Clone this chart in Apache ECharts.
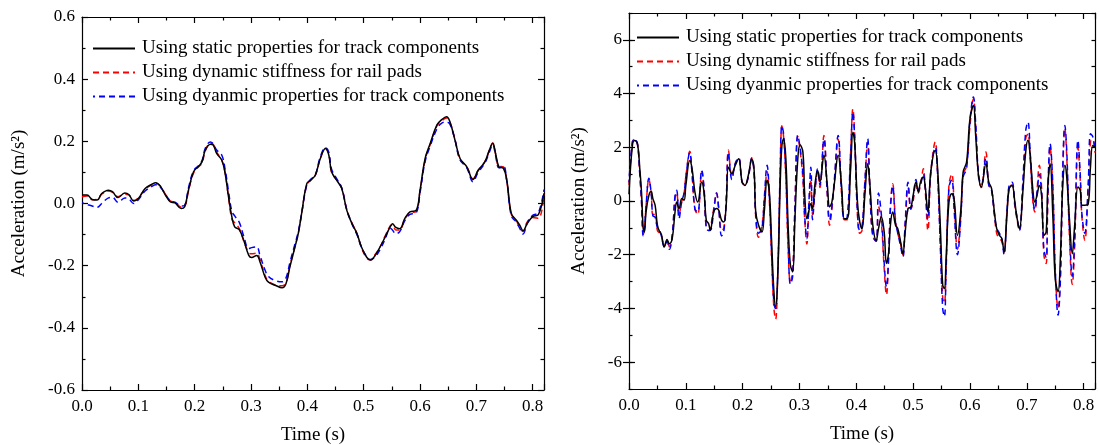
<!DOCTYPE html>
<html><head><meta charset="utf-8">
<script src="https://cdn.jsdelivr.net/npm/echarts@6/dist/echarts.min.js"></script>
<style>html,body{margin:0;padding:0;background:#fff}#c{width:1099px;height:445px}</style>
</head><body><div id="c"></div>
<script>
const seriesNames = ['Using static properties for track components', 'Using dynamic stiffness for rail pads', 'Using dyanmic properties for track components'];
const xTitle = 'Time (s)';
const yTitle = 'Acceleration (m/s\u00B2)';
const rightYLabels = [-6, -4, -2, 0, 2, 4, 6];

// Left chart
const tL = [0.000,0.009,0.018,0.027,0.035,0.047,0.054,0.064,0.076,0.083,
0.092,0.100,0.112,0.124,0.131,0.139,0.148,0.157,0.165,0.176,
0.182,0.189,0.198,0.207,0.213,0.219,0.228,0.233,0.239,0.248,
0.254,0.260,0.266,0.271,0.279,0.287,0.296,0.301,0.310,0.316,
0.325,0.331,0.343,0.355,0.362,0.369,0.378,0.384,0.390,0.399,
0.406,0.414,0.423,0.432,0.438,0.443,0.452,0.461,0.470,0.479,
0.488,0.496,0.505,0.512,0.520,0.529,0.538,0.547,0.551,0.557,
0.564,0.573,0.582,0.593,0.600,0.609,0.618,0.630,0.638,0.647,
0.653,0.662,0.671,0.683,0.694,0.703,0.715,0.723,0.729,0.734,
0.740,0.748,0.754,0.762,0.771,0.777,0.783,0.790,0.800,0.810,
0.820];
const staticL = [0.027,0.027,0.013,0.011,0.032,0.043,0.038,0.019,0.034,0.029,
0.008,0.016,0.048,0.062,0.067,0.056,0.027,0.005,0.002,-0.016,
-0.011,0.043,0.102,0.120,0.134,0.172,0.191,0.188,0.161,0.140,
0.097,0.022,-0.043,-0.075,-0.084,-0.118,-0.167,-0.174,-0.167,-0.188,
-0.237,-0.253,-0.263,-0.271,-0.258,-0.204,-0.140,-0.095,-0.030,0.064,
0.075,0.091,0.145,0.177,0.156,0.102,0.075,0.048,-0.022,-0.064,
-0.097,-0.140,-0.172,-0.182,-0.168,-0.140,-0.108,-0.075,-0.065,-0.077,
-0.081,-0.048,-0.027,-0.022,0.043,0.145,0.193,0.253,0.269,0.279,
0.263,0.204,0.145,0.118,0.077,0.107,0.134,0.172,0.194,0.161,
0.118,0.113,0.075,-0.032,-0.054,-0.070,-0.088,-0.065,-0.042,-0.036,
0.033];
const padsL = [0.022,0.024,0.012,0.014,0.030,0.040,0.036,0.022,0.030,0.028,
0.010,0.018,0.046,0.060,0.064,0.056,0.030,0.008,0.004,-0.012,
-0.010,0.040,0.098,0.118,0.130,0.170,0.195,0.190,0.165,0.140,
0.100,0.020,-0.050,-0.062,-0.080,-0.120,-0.158,-0.162,-0.160,-0.182,
-0.232,-0.250,-0.262,-0.265,-0.255,-0.200,-0.138,-0.095,-0.030,0.060,
0.075,0.090,0.145,0.178,0.158,0.100,0.076,0.050,-0.020,-0.062,
-0.097,-0.142,-0.175,-0.182,-0.165,-0.140,-0.105,-0.072,-0.068,-0.085,
-0.085,-0.050,-0.030,-0.026,0.040,0.140,0.190,0.250,0.265,0.275,
0.262,0.205,0.142,0.118,0.080,0.105,0.135,0.170,0.195,0.160,
0.120,0.118,0.070,-0.035,-0.055,-0.080,-0.090,-0.060,-0.045,-0.048,
0.030];
const dynL = [0.002,-0.003,-0.008,-0.012,0.000,0.018,0.020,0.004,0.018,0.015,
0.000,0.012,0.040,0.055,0.060,0.052,0.030,0.008,0.004,-0.008,
-0.006,0.050,0.105,0.122,0.138,0.178,0.198,0.192,0.172,0.156,
0.110,0.040,-0.025,-0.040,-0.060,-0.105,-0.145,-0.142,-0.140,-0.168,
-0.215,-0.235,-0.248,-0.252,-0.240,-0.190,-0.130,-0.090,-0.030,0.060,
0.078,0.092,0.150,0.180,0.165,0.110,0.080,0.050,-0.020,-0.065,
-0.100,-0.140,-0.170,-0.180,-0.172,-0.148,-0.115,-0.080,-0.085,-0.098,
-0.090,-0.055,-0.035,-0.030,0.035,0.135,0.185,0.240,0.258,0.262,
0.255,0.205,0.140,0.115,0.070,0.100,0.130,0.165,0.190,0.155,
0.115,0.120,0.072,-0.040,-0.060,-0.080,-0.098,-0.065,-0.038,-0.030,
0.045];

// Right chart
const tR = [0.000,0.006,0.010,0.015,0.019,0.022,0.025,0.027,0.030,0.035,
0.039,0.042,0.046,0.050,0.054,0.057,0.062,0.067,0.071,0.076,
0.081,0.084,0.088,0.093,0.097,0.100,0.107,0.111,0.116,0.121,
0.128,0.132,0.136,0.140,0.143,0.149,0.154,0.158,0.163,0.167,
0.171,0.175,0.181,0.187,0.193,0.199,0.204,0.210,0.216,0.220,
0.223,0.228,0.234,0.238,0.243,0.247,0.251,0.255,0.258,0.262,
0.266,0.269,0.272,0.276,0.280,0.284,0.288,0.292,0.297,0.301,
0.306,0.309,0.313,0.316,0.320,0.323,0.327,0.332,0.336,0.343,
0.349,0.353,0.357,0.361,0.368,0.374,0.379,0.384,0.390,0.394,
0.397,0.402,0.406,0.410,0.415,0.420,0.424,0.429,0.435,0.439,
0.444,0.449,0.453,0.457,0.460,0.464,0.469,0.473,0.478,0.482,
0.486,0.491,0.496,0.500,0.505,0.509,0.513,0.518,0.521,0.526,
0.531,0.539,0.543,0.548,0.552,0.555,0.558,0.563,0.568,0.572,
0.578,0.584,0.588,0.594,0.600,0.606,0.610,0.615,0.620,0.628,
0.633,0.638,0.643,0.647,0.652,0.656,0.660,0.665,0.669,0.674,
0.679,0.682,0.687,0.693,0.698,0.702,0.706,0.711,0.714,0.718,
0.722,0.726,0.730,0.734,0.737,0.741,0.746,0.750,0.755,0.759,
0.763,0.767,0.770,0.775,0.780,0.784,0.790,0.794,0.797,0.802,
0.808,0.812,0.816,0.820];
const staticR = [0.25,2.07,2.25,2.13,1.2,0.33,-1.03,-1.15,-0.41,0.21,
0.36,0.09,-0.16,-0.9,-1.15,-1.25,-1.71,-1.43,-1.59,-1.4,
-0.41,-0.04,-0.28,0.09,0.03,0.58,1.51,1.2,0.33,-0.04,
0.71,0.33,-0.72,-0.84,-1.09,-0.41,-0.28,-0.35,-0.72,-0.78,
-0.16,1.26,1.02,1.33,1.57,0.71,0.58,0.96,1.55,1.2,
-0.41,-0.9,-1.15,-0.41,0.77,0.33,-1.53,-3.38,-3.94,-2.64,
0.58,2.07,2.32,1.57,-0.9,-2.39,-2.64,-0.66,1.57,2.09,
1.82,0.33,-0.66,-0.41,-0.1,-0.28,0.58,1.14,0.71,1.7,
0.58,-0.22,-0.04,0.58,1.7,0.58,-0.66,-0.66,1.2,2.56,
2.19,-0.04,-0.78,-1.03,0.21,1.39,0.58,-0.9,-1.46,-1.03,
-0.59,-1.15,-2.33,-1.9,-0.9,-0.41,-0.9,-1.03,-1.53,-1.96,
-1.15,-0.28,-0.22,0.21,0.71,0.33,0.71,0.89,0.58,-0.41,
1.08,1.88,1.2,-1.03,-3.13,-3.26,-2.14,-0.04,0.27,0.09,
-1.28,-0.3,1.08,1.45,3.06,3.56,2.44,0.96,0.52,1.39,
0.71,0.46,-0.41,-1.03,-1.28,-1.4,-1.9,-0.53,0.46,0.58,
-0.04,-0.53,-1.03,0.33,1.82,2.26,1.7,0.33,-0.04,0.21,
0.58,0.21,-1.28,-1.15,0.58,1.39,-0.66,-2.89,-3.38,-2.14,
0.46,1.33,0.96,-0.66,-1.96,-0.97,0.52,0.40,-0.16,-0.16,
-0.12,1.26,2.07,2.0];
const padsR = [0.6,2.2,2.3,2.1,1.0,0.0,-1.25,-1.1,-0.2,0.8,
0.3,-0.5,-0.5,-1.1,-1.2,-1.3,-1.7,-1.5,-1.7,-1.3,
0.1,0.3,-0.5,0.0,0.3,0.9,1.85,1.0,-0.3,-0.5,
1.1,0.4,-1.0,-1.1,-1.0,-0.3,0.3,-0.3,-1.1,-1.0,
0.0,1.9,0.9,1.4,1.6,0.7,0.6,0.9,1.6,1.1,
-0.6,-1.35,-0.9,0.0,1.1,0.0,-2.2,-4.0,-4.4,-2.5,
1.0,2.8,2.4,0.8,-1.8,-3.0,-2.6,-0.2,2.4,1.9,
0.8,-0.6,-1.6,-0.5,0.8,-0.5,0.3,1.1,0.5,2.44,
0.2,-0.9,-0.3,0.6,2.3,0.3,-0.7,-0.7,1.8,3.43,
2.5,-0.5,-1.2,-1.1,0.6,2.2,0.3,-1.3,-1.5,-0.2,
-0.8,-2.5,-3.5,-2.0,-0.2,0.64,-0.7,-1.2,-1.6,-2.0,
-0.9,0.5,-0.3,0.0,0.7,0.3,0.6,1.2,0.5,-1.1,
1.0,2.2,1.0,-1.6,-3.6,-3.8,-2.4,0.6,1.0,0.0,
-1.8,-0.5,1.0,1.3,2.8,3.8,2.8,0.9,0.5,1.82,
0.6,0.4,-0.5,-1.2,-1.4,-1.5,-1.9,-0.5,0.5,0.6,
-0.2,-0.6,-1.1,0.5,2.3,2.5,1.5,-0.1,-0.41,0.4,
1.33,0.5,-2.0,-2.33,0.0,2.0,0.3,-2.6,-4.0,-2.8,
0.8,2.7,1.8,-1.3,-3.1,-1.8,2.0,0.8,-0.6,-1.46,
0.4,2.2,2.3,1.8];
const dynR = [0.7,2.2,2.3,2.1,1.0,0.0,-1.3,-1.1,-0.2,0.85,
0.3,-0.55,-0.6,-1.0,-1.1,-1.3,-1.7,-1.5,-1.8,-1.3,
0.2,0.4,-0.66,0.0,0.3,0.9,1.8,1.0,-0.3,-0.4,
1.15,0.5,-1.0,-1.1,-1.1,-0.4,0.3,-0.3,-1.3,-1.1,
0.0,1.8,0.8,1.4,1.6,0.7,0.6,0.9,1.6,1.1,
-0.5,-1.2,-1.0,0.1,1.33,0.2,-2.0,-3.8,-4.0,-2.5,
1.2,2.8,2.5,1.0,-1.5,-3.1,-2.8,-0.3,2.45,2.0,
1.0,-0.5,-1.4,-0.3,1.26,-0.7,0.3,1.2,0.6,2.3,
0.3,-0.7,-0.2,0.7,2.44,0.4,-0.7,-0.6,1.8,3.3,
2.4,-0.4,-1.1,-1.0,0.7,2.32,0.4,-1.3,-1.5,0.3,
-0.5,-2.3,-3.2,-2.0,-0.3,0.55,-0.8,-1.2,-1.7,-2.08,
-0.8,0.7,-0.3,0.1,0.8,0.4,0.6,1.0,0.6,-0.7,
1.1,2.0,1.0,-1.8,-4.0,-4.3,-2.6,0.5,0.8,-0.3,
-2.0,-0.6,0.9,1.2,3.0,3.87,2.9,1.0,0.6,1.6,
0.6,0.4,-0.5,-1.0,-1.2,-1.4,-2.0,-0.4,0.6,0.7,
-0.1,-0.5,-1.1,0.7,2.6,2.94,1.8,0.0,-0.3,0.3,
1.0,0.3,-1.8,-2.1,0.3,2.13,0.5,-2.5,-4.25,-3.0,
1.0,2.81,2.0,-1.0,-2.8,-1.5,2.26,1.0,-0.5,-1.2,
0.6,2.5,2.4,1.9];

const FONT = "'Liberation Serif','Times New Roman',serif";
const AXC = '#000';
function pairs(t, v) { return t.map((x, i) => [x, v[i]]); }

const lineAx = { show: true, onZero: false, lineStyle: { color: AXC, width: 1.2 } };
const tickMaj = { show: true, inside: true, length: 6, lineStyle: { color: AXC, width: 1.2 } };
const tickMin = { show: true, splitNumber: 2, length: 3.5, lineStyle: { color: AXC, width: 1.2 } };
const lblStyle = { color: AXC, fontFamily: FONT, fontSize: 17 };
const nameStyle = { color: AXC, fontFamily: FONT, fontSize: 19 };

function xAx(grid, pos, labels) {
  return {
    type: 'value', gridIndex: grid, position: pos, min: 0, max: 0.82, interval: 0.1,
    axisLine: lineAx, axisTick: tickMaj, minorTick: tickMin,
    splitLine: { show: false }, minorSplitLine: { show: false },
    axisLabel: Object.assign({ show: labels, showMaxLabel: false, margin: 8,
      formatter: v => v.toFixed(1) }, lblStyle),
    name: labels ? xTitle : '', nameLocation: 'middle', nameGap: 36, nameTextStyle: nameStyle
  };
}

function legendAt(left, top) {
  return { data: seriesNames, orient: 'vertical', left: left, top: top, itemWidth: 42, itemHeight: 2, itemGap: 5,
    padding: 0, selectedMode: false, itemStyle: { opacity: 0 },
    textStyle: { fontFamily: FONT, fontSize: 19, color: AXC, lineHeight: 19, padding: [0, 0, 0, 2] } };
}

const option = {
  animation: false,
  backgroundColor: '#fff',
  grid: [
    { left: 82, top: 17, width: 462, height: 373, containLabel: false, outerBoundsMode: 'none' },
    { left: 629, top: 13, width: 466, height: 376, containLabel: false, outerBoundsMode: 'none' }
  ],
  xAxis: [xAx(0, 'bottom', true), xAx(0, 'top', false), xAx(1, 'bottom', true), xAx(1, 'top', false)],
  yAxis: [
    { type: 'value', gridIndex: 0, position: 'left', min: -0.6, max: 0.6, interval: 0.2,
      axisLine: lineAx, axisTick: tickMaj, minorTick: tickMin,
      splitLine: { show: false }, minorSplitLine: { show: false },
      axisLabel: Object.assign({ margin: 7, formatter: v => v.toFixed(1) }, lblStyle),
      name: yTitle, nameLocation: 'middle', nameGap: 53, nameTextStyle: nameStyle },
    { type: 'value', gridIndex: 0, position: 'right', min: -0.6, max: 0.6, interval: 0.2,
      axisLine: lineAx, axisTick: tickMaj, minorTick: tickMin,
      splitLine: { show: false }, minorSplitLine: { show: false }, axisLabel: { show: false } },
    { type: 'value', gridIndex: 1, position: 'left', min: -7, max: 7, interval: 1,
      axisLine: lineAx, axisTick: Object.assign({}, tickMaj, { length: 3.5 }),
      splitLine: { show: false }, axisLabel: { show: false },
      name: yTitle, nameLocation: 'middle', nameGap: 40, nameTextStyle: nameStyle },
    { type: 'value', gridIndex: 1, position: 'left', min: -7, max: 7, interval: 1,
      axisLine: { show: false }, axisTick: Object.assign({}, tickMaj, { customValues: rightYLabels }),
      splitLine: { show: false },
      axisLabel: Object.assign({ margin: 7, customValues: rightYLabels, formatter: v => String(v) }, lblStyle) },
    { type: 'value', gridIndex: 1, position: 'right', min: -7, max: 7, interval: 1,
      axisLine: lineAx, axisTick: Object.assign({}, tickMaj, { length: 3.5 }),
      splitLine: { show: false }, axisLabel: { show: false } },
    { type: 'value', gridIndex: 1, position: 'right', min: -7, max: 7, interval: 1,
      axisLine: { show: false }, axisTick: Object.assign({}, tickMaj, { customValues: rightYLabels }),
      splitLine: { show: false }, axisLabel: { show: false } }
  ],
  legend: [legendAt(92, 39), legendAt(636, 28)],
  series: []
};

const styles = [
  { color: '#000000', type: 'solid', z: 4, dashOffset: 0 },
  { color: '#ff0000', type: [6, 4], z: 3, dashOffset: 0 },
  { color: '#0000ff', type: [6, 4], z: 3.5, dashOffset: 4 }
];
const dataL = [staticL, padsL, dynL];
const dataR = [staticR, padsR, dynR];
[[0, 0, tL, dataL], [2, 2, tR, dataR]].forEach(([xi, yi, t, arrs]) => {
  arrs.forEach((vals, k) => {
    const s = styles[k];
    option.series.push({
      type: 'line', name: seriesNames[k], xAxisIndex: xi, yAxisIndex: yi,
      data: pairs(t, vals), symbol: 'none', showSymbol: false, smooth: 0.4, z: s.z,
      lineStyle: { color: s.color, width: 1.5, type: s.type, dashOffset: s.dashOffset },
      itemStyle: { color: s.color }
    });
  });
});

const chart = echarts.init(document.getElementById('c'), null, { renderer: 'canvas' });
chart.setOption(option);
</script>
</body></html>
